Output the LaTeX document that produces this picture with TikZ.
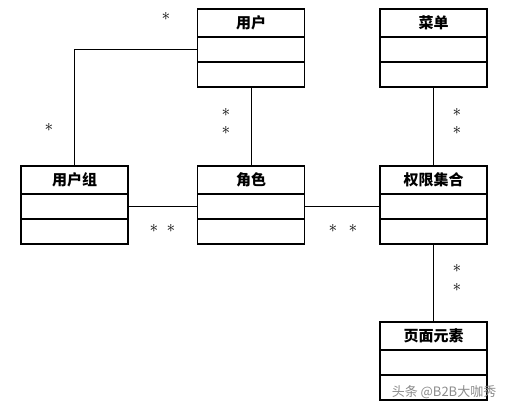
\documentclass[tikz,border=0pt]{standalone}
\usepackage{fontspec}
\newfontfamily\cjk{Noto Sans CJK SC}
\begin{document}
\begin{tikzpicture}[
  x=1pt, y=-1pt,
  chead/.style={draw, line width=1.3pt, rectangle, minimum width=107, minimum height=28,
                inner sep=0pt, font=\cjk\bfseries\fontsize{15}{18}\selectfont},
  ccell/.style={draw, line width=1.3pt, rectangle, minimum width=107, minimum height=25,
                inner sep=0pt},
  link/.style={draw, line width=0.7pt},
  mult/.style={inner sep=0pt, font=\fontsize{17}{20}\selectfont},
]
\useasboundingbox (0,0) rectangle (510,410);
% classes, top row
\node[chead] (u) at (251,23) {用户};
\node[ccell] (u1) at (251,49.5) {};
\node[ccell] (u2) at (251,74.5) {};
\node[chead] (m) at (433.5,23) {菜单};
\node[ccell] (m1) at (433.5,49.5) {};
\node[ccell] (m2) at (433.5,74.5) {};
% classes, middle row
\node[chead] (ug) at (74.5,180) {用户组};
\node[ccell] (ug1) at (74.5,206.5) {};
\node[ccell] (ug2) at (74.5,231.5) {};
\node[chead] (r) at (251,180) {角色};
\node[ccell] (r1) at (251,206.5) {};
\node[ccell] (r2) at (251,231.5) {};
\node[chead] (p) at (433.5,180) {权限集合};
\node[ccell] (p1) at (433.5,206.5) {};
\node[ccell] (p2) at (433.5,231.5) {};
% bottom
\node[chead] (e) at (433.5,336) {页面元素};
\node[ccell] (e1) at (433.5,362.5) {};
\node[ccell] (e2) at (433.5,387.5) {};
% associations
\draw[link] (u1.west) -| (ug.north);
\draw[link] (u2.south) -- (r.north);
\draw[link] (ug1.east) -- (r1.west);
\draw[link] (r1.east) -- (p1.west);
\draw[link] (m2.south) -- (p.north);
\draw[link] (p2.south) -- (e.north);
% multiplicities
\node[mult] (s1) at (166,16) {$\ast$};
\node[mult] (s2) at (49,127) {$\ast$};
\node[mult] (s3) at (226,112) {$\ast$};
\node[mult] (s4) at (226,130) {$\ast$};
\node[mult] (s5) at (154,228) {$\ast$};
\node[mult] (s6) at (171,228) {$\ast$};
\node[mult] (s7) at (333,228) {$\ast$};
\node[mult] (s8) at (353,228) {$\ast$};
\node[mult] (s9) at (457,112) {$\ast$};
\node[mult] (s10) at (457,130) {$\ast$};
\node[mult] (s11) at (457,268) {$\ast$};
\node[mult] (s12) at (457,287) {$\ast$};
\node[font=\cjk\fontsize{13}{15}\selectfont, text=black!45, inner sep=0pt] (wm) at (444,392) {头条 @B2B大咖秀};
\end{tikzpicture}
\end{document}
